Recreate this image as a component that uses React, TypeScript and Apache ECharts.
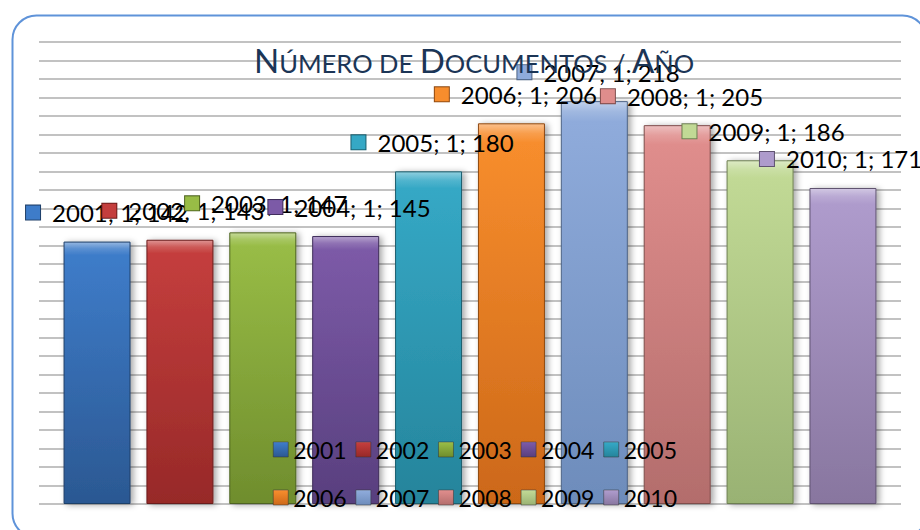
import React, { useEffect, useRef } from "react";
import * as echarts from "echarts";

// ---- data ----
const categories = ["1"];
const seriesNames = ["2001", "2002", "2003", "2004", "2005", "2006", "2007", "2008", "2009", "2010"];
const values = [142, 143, 147, 145, 180, 206, 218, 205, 186, 171];
const categoryLabel = "1";
const yMin = 0;
const yMax = 250;
const yInterval = 10;

// ---- styles ----
const topColors = ["#3e7cc9", "#c43e3d", "#98bc46", "#7c5aa7", "#35a8c5", "#f78d2d", "#8fabdb", "#df8d8c", "#c1d995", "#ae9bcc"];
const bottomColors = ["#2b5892", "#972928", "#6f8d2d", "#583f7e", "#25849b", "#cc6819", "#6d8cbb", "#b36d6c", "#99b273", "#88769f"];
const edgeColors = ["#1f3f68", "#6a1c1b", "#4e6420", "#3f2d5a", "#1a5e6e", "#8f4911", "#4e6485", "#7f4d4c", "#6c7e51", "#605371"];
const labelDx = [-71, -77.6, -77.7, -77.3, -77.1, -76.6, -76.9, -76.3, -77.6, -83];
const labelDy = -29;
const FONT = "Lato";

function mix(hex: string, amt: number): string {
  const n = parseInt(hex.slice(1), 16);
  const r = (n >> 16) & 255, g = (n >> 8) & 255, b = n & 255;
  const f = (c: number) => Math.round(c + (255 - c) * amt);
  return "rgb(" + f(r) + "," + f(g) + "," + f(b) + ")";
}

export default function App() {
  const ref = useRef<HTMLDivElement>(null);
  useEffect(() => {
    if (!ref.current) return;
    const chart = echarts.init(ref.current, null, { renderer: "svg" });
    const series = seriesNames.map((name, i) => ({
      name,
      type: "bar",
      barWidth: 67,
      barGap: "23.7%",
      data: [values[i]],
      itemStyle: {
        color: new echarts.graphic.LinearGradient(0, 0, 0, 1, [
          { offset: 0, color: mix(topColors[i], 0.45) },
          { offset: 0.025, color: mix(topColors[i], 0.15) },
          { offset: 0.05, color: topColors[i] },
          { offset: 1, color: bottomColors[i] },
        ]),
        borderColor: edgeColors[i],
        borderWidth: 1,
        shadowColor: "rgba(0,0,0,0.35)",
        shadowBlur: 6,
        shadowOffsetX: 3,
        shadowOffsetY: 1,
      },
      label: {
        show: true,
        position: "top",
        distance: 0,
        align: "left",
        verticalAlign: "middle",
        offset: [labelDx[i], labelDy],
        formatter: (p: any) => "{m|}{t|" + p.seriesName + "; " + categoryLabel + "; " + p.value + "}",
        rich: {
          m: {
            width: 14,
            height: 14,
            backgroundColor: topColors[i],
            borderColor: edgeColors[i],
            borderWidth: 1,
            verticalAlign: "middle",
          },
          t: {
            fontSize: 24,
            fontFamily: FONT,
            color: "#000",
            padding: [0, 0, 0, 12],
            verticalAlign: "middle",
          },
        },
      },
    }));
    const legendCommon = {
      left: 268,
      orient: "horizontal",
      icon: "rect",
      itemWidth: 15,
      itemHeight: 15,
      itemGap: 9,
      itemStyle: { borderColor: "#333", borderWidth: 0.5 },
      textStyle: { fontSize: 23, fontFamily: FONT, color: "#000" },
      selectedMode: false,
    };
    chart.setOption({
      animation: false,
      backgroundColor: "#ffffff",
      title: {
        left: 249,
        top: 38,
        text: "{b|N}{s|ÚMERO DE }{b|D}{s|OCUMENTOS / }{b|A}{s|ÑO}",
        textStyle: {
          fontWeight: "normal",
          rich: {
            b: { fontSize: 33, lineHeight: 33, fontFamily: FONT, fontWeight: "normal", color: "#1b3556", verticalAlign: "bottom" },
            s: { fontSize: 25.5, lineHeight: 25.5, fontFamily: FONT, fontWeight: "normal", color: "#1b3556", verticalAlign: "bottom" },
          },
        },
      },
      legend: [
        { ...legendCommon, top: 433, data: seriesNames.slice(0, 5) },
        { ...legendCommon, top: 481, data: seriesNames.slice(5) },
      ],
      grid: { left: 39, right: 19, top: 42, bottom: 26, containLabel: false },
      xAxis: {
        type: "category",
        data: categories,
        axisLine: { show: false },
        axisTick: { show: false },
        axisLabel: { show: false },
      },
      yAxis: {
        type: "value",
        min: yMin,
        max: yMax,
        interval: yInterval,
        axisLine: { show: false },
        axisTick: { show: false },
        axisLabel: { show: false },
        splitLine: { lineStyle: { color: "#c2c2c2", width: 2 } },
      },
      graphic: [
        {
          type: "rect",
          left: 10,
          top: 13,
          shape: { width: 914, height: 522, r: 24 },
          style: { fill: "none", stroke: "#5f93d9", lineWidth: 2 },
          z: 100,
          silent: true,
        },
      ],
      series,
    });
    return () => chart.dispose();
  }, []);
  return (
    <div
      ref={ref}
      style={{ position: "absolute", left: 0, top: 0, width: 920, height: 530, background: "#fff" }}
    />
  );
}
